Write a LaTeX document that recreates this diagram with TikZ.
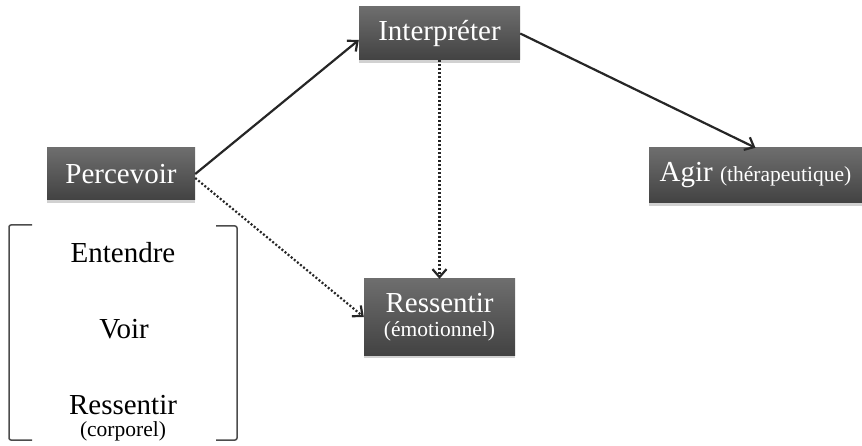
\documentclass[tikz,border=0pt]{standalone}
\usepackage{fontspec}
\setmainfont{Liberation Serif}
\usetikzlibrary{arrows.meta,shadows,calc}
\begin{document}
\begin{tikzpicture}[x=1pt,y=-1pt,
  boxnode/.style={top color=black!57,bottom color=black!74,draw=none,inner sep=0pt,
    text=white,font=\fontsize{29}{29}\selectfont,align=center,
    drop shadow={shadow xshift=0pt,shadow yshift=-3pt,opacity=0.3,fill=black!60}},
  arr/.style={draw=black!85,line width=2.2pt,-{Straight Barb[length=8pt,width=14pt,line width=2.2pt]}},
  dotarr/.style={arr,dash pattern=on 2pt off 2pt},
  brack/.style={draw=black!70,line width=1.5pt,rounded corners=2pt},
  plain/.style={font=\fontsize{29}{29}\selectfont,anchor=base},
  small/.style={font=\fontsize{21.5}{22}\selectfont,anchor=base}]
\useasboundingbox (0,0) rectangle (862,446);
\node[boxnode,minimum width=161pt,minimum height=53pt] (int) at (439.5,33.5) {Interpréter};
\node[boxnode,minimum width=148pt,minimum height=52pt] (perc) at (121,174) {Percevoir};
\node[boxnode,minimum width=213pt,minimum height=55pt] (agir) at (755.5,175.5) {Agir {\fontsize{21.5}{22}\selectfont (thérapeutique)}};
\node[boxnode,minimum width=151pt,minimum height=76pt] (res) at (439.5,317) {Ressentir\\[-5pt]{\fontsize{21.5}{22}\selectfont (émotionnel)}};
\draw[arr] (perc.east) -- ([yshift=-6.5pt]int.west);
\draw[dotarr] ([yshift=-4pt]perc.east) -- (res.west);
\draw[arr] (int.east) -- (agir.north);
\draw[dotarr] (int.south) -- (res.north);
\draw[brack] (32,225) -- (9,225) -- (9,440) -- (32,440);
\draw[brack] (216,226) -- (237,226) -- (237,440) -- (216,440);
\node[plain] (ent) at (123,263) {Entendre};
\node[plain] (voir) at (124,338) {Voir};
\node[plain] (ress) at (123,414) {Ressentir};
\node[small] (corp) at (123,436) {(corporel)};
\end{tikzpicture}
\end{document}
